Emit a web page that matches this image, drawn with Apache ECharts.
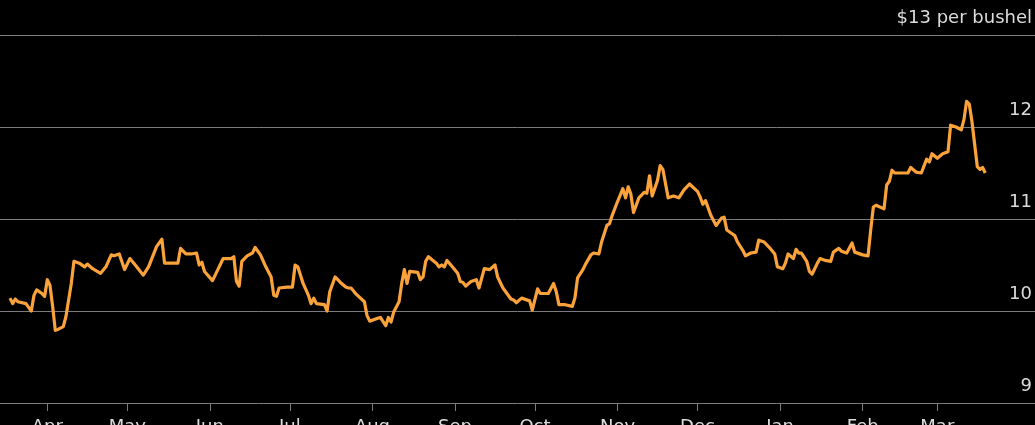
<!DOCTYPE html>
<html>
<head>
<meta charset="utf-8">
<script src="https://cdn.jsdelivr.net/npm/echarts@6/dist/echarts.min.js"></script>
<style>
html,body{margin:0;padding:0;background:#000;}
#chart{width:1035px;height:425px;}
</style>
</head>
<body>
<div id="chart"></div>
<script>
var dates = [
'2021-03-18','2021-03-19','2021-03-20','2021-03-21','2021-03-24','2021-03-25','2021-03-26','2021-03-27','2021-03-28','2021-03-30','2021-03-31',
'2021-04-01','2021-04-02','2021-04-03','2021-04-04','2021-04-05','2021-04-07','2021-04-08','2021-04-10','2021-04-11','2021-04-13','2021-04-15','2021-04-16','2021-04-18','2021-04-21','2021-04-23','2021-04-25','2021-04-26','2021-04-28','2021-04-30',
'2021-05-02','2021-05-04','2021-05-07','2021-05-09','2021-05-12','2021-05-14','2021-05-15','2021-05-20','2021-05-21','2021-05-23','2021-05-25','2021-05-27','2021-05-28','2021-05-29','2021-05-30',
'2021-06-02','2021-06-04','2021-06-06','2021-06-09','2021-06-10','2021-06-11','2021-06-12','2021-06-13','2021-06-15','2021-06-17','2021-06-18','2021-06-20','2021-06-22','2021-06-24','2021-06-25','2021-06-26','2021-06-27','2021-06-30',
'2021-07-02','2021-07-03','2021-07-04','2021-07-06','2021-07-08','2021-07-09','2021-07-10','2021-07-11','2021-07-14','2021-07-15','2021-07-16','2021-07-18','2021-07-20','2021-07-22','2021-07-23','2021-07-24','2021-07-26','2021-07-29','2021-07-30','2021-07-31',
'2021-08-03','2021-08-04','2021-08-06','2021-08-07','2021-08-08','2021-08-09','2021-08-11','2021-08-12','2021-08-13','2021-08-14','2021-08-15','2021-08-18','2021-08-19','2021-08-20','2021-08-21','2021-08-22','2021-08-25','2021-08-26','2021-08-27','2021-08-28','2021-08-29','2021-08-31',
'2021-09-02','2021-09-03','2021-09-04','2021-09-05','2021-09-07','2021-09-09','2021-09-10','2021-09-12','2021-09-14','2021-09-16','2021-09-17','2021-09-19','2021-09-22','2021-09-23','2021-09-24','2021-09-26','2021-09-29','2021-09-30',
'2021-10-02','2021-10-03','2021-10-06','2021-10-08','2021-10-09','2021-10-10','2021-10-12','2021-10-15','2021-10-16','2021-10-17','2021-10-19','2021-10-20','2021-10-22','2021-10-23','2021-10-25','2021-10-26','2021-10-28','2021-10-29','2021-10-30',
'2021-11-01','2021-11-03','2021-11-04','2021-11-05','2021-11-06','2021-11-07','2021-11-08','2021-11-09','2021-11-11','2021-11-12','2021-11-13','2021-11-14','2021-11-16','2021-11-17','2021-11-18','2021-11-20','2021-11-22','2021-11-24','2021-11-26','2021-11-28',
'2021-12-01','2021-12-02','2021-12-03','2021-12-04','2021-12-06','2021-12-08','2021-12-10','2021-12-11','2021-12-12','2021-12-14','2021-12-15','2021-12-16','2021-12-18','2021-12-19','2021-12-21','2021-12-23','2021-12-24','2021-12-26','2021-12-28','2021-12-30','2021-12-31',
'2022-01-02','2022-01-03','2022-01-04','2022-01-06','2022-01-07','2022-01-08','2022-01-09','2022-01-11','2022-01-12','2022-01-13','2022-01-15','2022-01-16','2022-01-18','2022-01-20','2022-01-21','2022-01-23','2022-01-24','2022-01-26','2022-01-28','2022-01-29',
'2022-02-01','2022-02-03','2022-02-04','2022-02-05','2022-02-06','2022-02-09','2022-02-10','2022-02-11','2022-02-12','2022-02-13','2022-02-18','2022-02-19','2022-02-21','2022-02-23','2022-02-25','2022-02-26','2022-02-27',
'2022-03-01','2022-03-03','2022-03-05','2022-03-06','2022-03-08','2022-03-10','2022-03-11','2022-03-12','2022-03-13','2022-03-14','2022-03-16','2022-03-17','2022-03-18','2022-03-19'
];
var prices = [
10.14,10.08,10.13,10.10,10.08,10.04,10.00,10.17,10.23,10.19,10.16,
10.34,10.28,10.05,9.79,9.80,9.83,9.94,10.30,10.54,10.52,10.48,10.51,10.46,10.41,10.48,10.61,10.60,10.62,10.45,
10.57,10.50,10.39,10.48,10.70,10.78,10.52,10.52,10.68,10.62,10.62,10.63,10.50,10.53,10.43,
10.33,10.45,10.57,10.57,10.59,10.32,10.27,10.54,10.60,10.63,10.69,10.61,10.48,10.37,10.17,10.16,10.25,10.26,
10.26,10.50,10.48,10.30,10.17,10.08,10.14,10.08,10.07,10.00,10.21,10.37,10.31,10.26,10.25,10.25,10.18,10.10,9.95,9.89,
9.92,9.93,9.84,9.93,9.88,9.99,10.10,10.30,10.45,10.30,10.43,10.42,10.34,10.37,10.54,10.59,10.52,10.48,10.50,10.48,10.55,10.48,
10.41,10.32,10.31,10.27,10.32,10.34,10.25,10.46,10.45,10.50,10.37,10.25,10.13,10.12,10.09,10.14,10.11,10.01,
10.24,10.19,10.19,10.30,10.21,10.07,10.07,10.05,10.14,10.36,10.45,10.51,10.61,10.63,10.62,10.75,10.93,10.95,11.04,
11.19,11.33,11.23,11.35,11.27,11.07,11.15,11.23,11.29,11.28,11.47,11.25,11.42,11.58,11.54,11.23,11.25,11.23,11.32,11.38,
11.30,11.24,11.16,11.20,11.04,10.93,11.01,11.02,10.88,10.84,10.82,10.75,10.66,10.60,10.63,10.64,10.77,10.75,10.69,10.62,10.48,
10.46,10.52,10.62,10.57,10.67,10.63,10.63,10.54,10.43,10.40,10.52,10.57,10.55,10.54,10.64,10.68,10.65,10.63,10.74,10.64,
10.61,10.60,10.88,11.13,11.15,11.11,11.37,11.41,11.53,11.50,11.50,11.56,11.51,11.50,11.65,11.62,11.71,
11.66,11.71,11.73,12.02,12.00,11.97,12.08,12.28,12.25,12.06,11.57,11.54,11.56,11.50
];
var monthNames = ['Jan','Feb','Mar','Apr','May','Jun','Jul','Aug','Sep','Oct','Nov','Dec'];
var unitLabel = '$13 per bushel';

var data = dates.map(function (d, i) { return [d, prices[i]]; });
var DAY = 86400000;
var GRID_LINE = '#7c7c7c';
var TEXT = '#dcdcdc';
var chart = echarts.init(document.getElementById('chart'));
chart.setOption({
  backgroundColor: '#000000',
  animation: false,
  grid: [
    { left: 0, right: 0, top: 35, bottom: 22, containLabel: false, outerBoundsMode: 'none' },
    { left: 0, right: 15.2, top: 35, bottom: 22, containLabel: false, outerBoundsMode: 'none' }
  ],
  xAxis: [
    { gridIndex: 0, type: 'value', min: 0, max: 1, show: false },
    {
      gridIndex: 1,
      type: 'time',
      min: '2021-03-14 06:00:00',
      max: '2022-03-31 23:00:00',
      splitNumber: 12,
      minInterval: 28 * DAY,
      maxInterval: 31 * DAY,
      axisLine: { show: false },
      axisTick: { show: true, length: 8, lineStyle: { color: GRID_LINE, width: 1 } },
      splitLine: { show: false },
      axisLabel: {
        show: true,
        showMinLabel: false,
        showMaxLabel: false,
        color: TEXT,
        fontFamily: 'DejaVu Sans',
        fontSize: 18,
        margin: 15,
        formatter: function (v) { return monthNames[new Date(v).getMonth()]; }
      }
    }
  ],
  yAxis: [
    {
      gridIndex: 0,
      type: 'value',
      position: 'right',
      min: 9,
      max: 13,
      interval: 1,
      axisLine: { show: false },
      axisTick: { show: false },
      splitLine: { show: true, lineStyle: { color: GRID_LINE, width: 1 } },
      axisLabel: {
        inside: true,
        color: TEXT,
        fontFamily: 'DejaVu Sans',
        fontSize: 18,
        margin: 3,
        align: 'right',
        verticalAlign: 'bottom',
        padding: [0, 0, 8, 0],
        formatter: function (v) { return v === 13 ? unitLabel : String(v); }
      }
    },
    { gridIndex: 1, type: 'value', min: 9, max: 13, interval: 1, show: false, splitLine: { show: false } }
  ],
  series: [{
    type: 'line',
    xAxisIndex: 1,
    yAxisIndex: 1,
    data: data,
    showSymbol: false,
    symbol: 'none',
    lineStyle: { color: '#fba33a', width: 3.2, join: 'round' },
    itemStyle: { color: '#fba33a' }
  }]
});
</script>
</body>
</html>
